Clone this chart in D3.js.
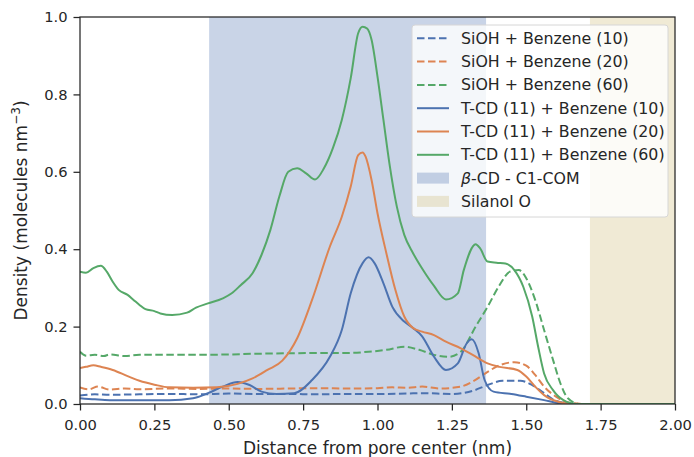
<!DOCTYPE html>
<html>
  <head>
    <meta charset="UTF-8" />
    <title>Density</title>
    <style>
      body { margin: 0; background: #fff; }
      text { font-family: 'DejaVu Sans', sans-serif; fill: #262626; }
    </style>
    <script src="https://d3js.org/d3.v7.min.js"></script>
  </head>
  <body>
    <div id="viz"></div>
    <script>
      // x positions (nm) and densities
      const siohB10_x = [0, 0.05, 0.1, 0.2, 0.3, 0.4, 0.5, 0.6, 0.7, 0.8, 0.9, 1.0, 1.1, 1.15, 1.25, 1.32, 1.37, 1.42, 1.48, 1.52, 1.56, 1.6, 1.65, 1.7, 2.0];
      const siohB10_y = [0.022, 0.025, 0.024, 0.025, 0.026, 0.025, 0.027, 0.026, 0.026, 0.025, 0.026, 0.026, 0.027, 0.028, 0.026, 0.034, 0.049, 0.06, 0.06, 0.049, 0.028, 0.008, 0.001, 0, 0];

      const siohB20_x = [0, 0.03, 0.06, 0.1, 0.15, 0.2, 0.3, 0.4, 0.5, 0.6, 0.7, 0.8, 0.9, 1.0, 1.05, 1.1, 1.15, 1.21, 1.28, 1.32, 1.37, 1.41, 1.46, 1.5, 1.53, 1.56, 1.6, 1.64, 1.7, 2.0];
      const siohB20_y = [0.043, 0.038, 0.045, 0.037, 0.04, 0.038, 0.04, 0.039, 0.04, 0.039, 0.04, 0.041, 0.04, 0.041, 0.043, 0.042, 0.045, 0.04, 0.045, 0.058, 0.083, 0.1, 0.108, 0.099, 0.075, 0.045, 0.019, 0.004, 0, 0];

      const siohB60_x = [0, 0.02, 0.05, 0.08, 0.1, 0.15, 0.2, 0.3, 0.4, 0.5, 0.6, 0.7, 0.8, 0.9, 0.97, 1.03, 1.09, 1.14, 1.19, 1.24, 1.28, 1.33, 1.37, 1.41, 1.445, 1.475, 1.5, 1.53, 1.56, 1.59, 1.615, 1.64, 1.68, 2.0];
      const siohB60_y = [0.135, 0.125, 0.127, 0.124, 0.128, 0.124, 0.127, 0.127, 0.127, 0.128, 0.13, 0.131, 0.132, 0.132, 0.135, 0.14, 0.148, 0.14, 0.127, 0.122, 0.135, 0.2, 0.251, 0.307, 0.342, 0.346, 0.325, 0.269, 0.191, 0.114, 0.053, 0.015, 0, 0];

      const tcdB10_x = [0, 0.05, 0.1, 0.2, 0.3, 0.38, 0.43, 0.48, 0.53, 0.57, 0.61, 0.66, 0.72, 0.78, 0.84, 0.88, 0.91, 0.95, 0.97, 0.99, 1.02, 1.05, 1.09, 1.12, 1.15, 1.19, 1.23, 1.27, 1.3, 1.317, 1.34, 1.36, 1.39, 1.45, 1.5, 1.56, 1.61, 1.65, 2.0];
      const tcdB10_y = [0.015, 0.012, 0.01, 0.01, 0.01, 0.015, 0.028, 0.045, 0.057, 0.049, 0.032, 0.026, 0.028, 0.062, 0.122, 0.191, 0.286, 0.364, 0.379, 0.364, 0.312, 0.251, 0.213, 0.196, 0.175, 0.122, 0.088, 0.105, 0.157, 0.167, 0.131, 0.062, 0.032, 0.026, 0.019, 0.01, 0.002, 0, 0];

      const tcdB20_x = [0, 0.02, 0.045, 0.07, 0.11, 0.16, 0.2, 0.25, 0.3, 0.38, 0.46, 0.53, 0.58, 0.63, 0.68, 0.73, 0.78, 0.84, 0.88, 0.91, 0.935, 0.95, 0.96, 0.98, 1.0, 1.03, 1.06, 1.09, 1.12, 1.15, 1.19, 1.23, 1.28, 1.32, 1.37, 1.41, 1.47, 1.5, 1.53, 1.56, 1.61, 1.65, 2.0];
      const tcdB20_y = [0.093, 0.096, 0.1, 0.096, 0.088, 0.072, 0.06, 0.05, 0.043, 0.042, 0.043, 0.052, 0.066, 0.088, 0.112, 0.17, 0.269, 0.407, 0.484, 0.562, 0.643, 0.65, 0.639, 0.579, 0.493, 0.389, 0.295, 0.226, 0.196, 0.187, 0.178, 0.161, 0.144, 0.127, 0.105, 0.096, 0.088, 0.071, 0.045, 0.023, 0.005, 0, 0];

      const tcdB60_x = [0, 0.02, 0.045, 0.07, 0.09, 0.11, 0.13, 0.16, 0.18, 0.2, 0.22, 0.25, 0.27, 0.31, 0.36, 0.39, 0.43, 0.48, 0.51, 0.54, 0.58, 0.61, 0.64, 0.67, 0.7, 0.73, 0.76, 0.79, 0.82, 0.85, 0.88, 0.91, 0.935, 0.95, 0.965, 0.98, 1.0, 1.02, 1.04, 1.065, 1.09, 1.12, 1.15, 1.19, 1.23, 1.27, 1.29, 1.33, 1.345, 1.37, 1.4, 1.43, 1.46, 1.49, 1.52, 1.54, 1.56, 1.59, 1.625, 1.67, 2.0];
      const tcdB60_y = [0.342, 0.339, 0.351, 0.357, 0.342, 0.316, 0.295, 0.282, 0.269, 0.256, 0.245, 0.24, 0.234, 0.23, 0.236, 0.249, 0.26, 0.273, 0.286, 0.307, 0.338, 0.385, 0.45, 0.536, 0.6, 0.609, 0.596, 0.58, 0.609, 0.661, 0.734, 0.842, 0.958, 0.975, 0.97, 0.941, 0.846, 0.734, 0.622, 0.51, 0.437, 0.389, 0.35, 0.305, 0.27, 0.286, 0.346, 0.413, 0.402, 0.368, 0.365, 0.363, 0.346, 0.303, 0.226, 0.148, 0.079, 0.036, 0.01, 0, 0];

      const seriesNames = ['SiOH + Benzene (10)', 'SiOH + Benzene (20)', 'SiOH + Benzene (60)', 'T-CD (11) + Benzene (10)', 'T-CD (11) + Benzene (20)', 'T-CD (11) + Benzene (60)'];
      const seriesX = [siohB10_x, siohB20_x, siohB60_x, tcdB10_x, tcdB20_x, tcdB60_x];
      const seriesY = [siohB10_y, siohB20_y, siohB60_y, tcdB10_y, tcdB20_y, tcdB60_y];
      const seriesColors = ['#4c72b0', '#dd8452', '#55a868', '#4c72b0', '#dd8452', '#55a868'];
      const seriesDashed = [true, true, true, false, false, false];

      // shaded regions [start, end]
      const spanNames = ['β-CD - C1-COM', 'Silanol O'];
      const spanRanges = [[0.434, 1.365], [1.714, 2.0]];
      const spanColors = ['#4c72b0', '#ccb974'];

      const xTicks = [0, 0.25, 0.5, 0.75, 1.0, 1.25, 1.5, 1.75, 2.0];
      const yTicks = [0, 0.2, 0.4, 0.6, 0.8, 1.0];

      const width = 694, height = 457;
      const margin = { left: 80, right: 19, top: 17, bottom: 53 };
      const innerW = width - margin.left - margin.right;
      const innerH = height - margin.top - margin.bottom;

      const svg = d3.select('#viz').append('svg')
        .attr('width', width).attr('height', height);
      const g = svg.append('g')
        .attr('transform', `translate(${margin.left},${margin.top})`);

      const x = d3.scaleLinear().domain([0, 2]).range([0, innerW]);
      const y = d3.scaleLinear().domain([0, 1]).range([innerH, 0]);

      // spans
      g.selectAll('.span')
        .data(spanRanges)
        .join('rect')
        .attr('class', 'span')
        .attr('x', (d) => x(d[0]))
        .attr('y', 0)
        .attr('width', (d) => x(d[1]) - x(d[0]))
        .attr('height', innerH)
        .attr('fill', (d, i) => spanColors[i])
        .attr('fill-opacity', 0.3);

      // lines
      const line = d3.line()
        .x((d) => x(d[0]))
        .y((d) => y(d[1]))
        .curve(d3.curveMonotoneX);

      svg.append('clipPath').attr('id', 'clip')
        .append('rect').attr('width', innerW).attr('height', innerH);

      g.append('g').attr('clip-path', 'url(#clip)')
        .selectAll('path')
        .data(seriesNames.map((n, i) => seriesX[i].map((v, j) => [v, seriesY[i][j]])))
        .join('path')
        .attr('d', line)
        .attr('fill', 'none')
        .attr('stroke', (d, i) => seriesColors[i])
        .attr('stroke-width', 2)
        .attr('stroke-dasharray', (d, i) => seriesDashed[i] ? '7.5,3.5' : null);

      // axes
      const xAxis = g.append('g')
        .attr('transform', `translate(0,${innerH})`)
        .call(d3.axisBottom(x).tickValues(xTicks).tickFormat(d3.format('.2f')).tickSizeOuter(0).tickSize(6.5).tickPadding(9));
      const yAxis = g.append('g')
        .call(d3.axisLeft(y).tickValues(yTicks).tickFormat(d3.format('.1f')).tickSizeOuter(0).tickSize(6.5).tickPadding(6));
      [xAxis, yAxis].forEach((a) => {
        a.select('.domain').remove();
        a.selectAll('line').attr('stroke', '#262626').attr('stroke-width', 1.25);
        a.selectAll('text').style('font-size', '14.7px').attr('fill', '#262626');
      });

      g.append('rect')
        .attr('width', innerW).attr('height', innerH)
        .attr('fill', 'none').attr('stroke', '#262626').attr('stroke-width', 1.25);

      // labels
      g.append('text')
        .attr('x', innerW / 2).attr('y', innerH + 50)
        .attr('text-anchor', 'middle')
        .style('font-size', '17px')
        .text('Distance from pore center (nm)');

      const yl = g.append('text')
        .attr('transform', `translate(-53,${innerH / 2}) rotate(-90)`)
        .attr('text-anchor', 'middle')
        .style('font-size', '17px');
      yl.append('tspan').text('Density (molecules nm');
      yl.append('tspan').attr('dy', -7).style('font-size', '12px').text('\u22123');
      yl.append('tspan').attr('dy', 7).text(')');

      // legend
      const lg = svg.append('g').attr('transform', 'translate(412,25)');
      lg.append('rect')
        .attr('width', 256).attr('height', 192).attr('rx', 3)
        .attr('fill', '#fff').attr('fill-opacity', 0.8)
        .attr('stroke', '#d6d6d6').attr('stroke-width', 1);
      const rowH = 23.3;
      seriesNames.forEach((n, i) => {
        const yy = 13.3 + i * rowH;
        lg.append('line')
          .attr('x1', 5).attr('x2', 37).attr('y1', yy).attr('y2', yy)
          .attr('stroke', seriesColors[i]).attr('stroke-width', 2)
          .attr('stroke-dasharray', seriesDashed[i] ? '7.5,3.5' : null);
        lg.append('text')
          .attr('x', 49).attr('y', yy).attr('dy', '0.35em')
          .style('font-size', '15.8px').text(n);
      });
      spanNames.forEach((n, i) => {
        const yy = 13.3 + (i + 6) * rowH;
        lg.append('rect')
          .attr('x', 5).attr('y', yy - 5.5).attr('width', 32).attr('height', 11)
          .attr('fill', spanColors[i]).attr('fill-opacity', 0.3);
        const t = lg.append('text')
          .attr('x', 49).attr('y', yy).attr('dy', '0.35em')
          .style('font-size', '15.8px');
        if (i === 0) {
          t.append('tspan').style('font-style', 'italic').text('β');
          t.append('tspan').text('-CD - C1-COM');
        } else {
          t.text(n);
        }
      });
    </script>
  </body>
</html>
